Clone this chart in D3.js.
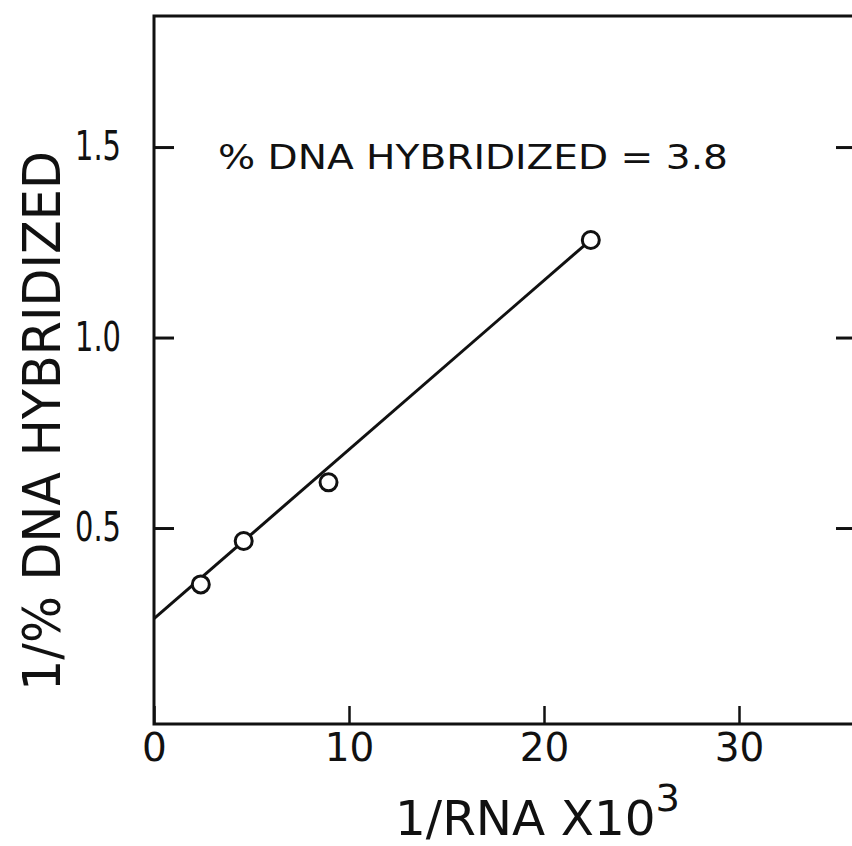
<!DOCTYPE html>
<html>
<head>
<meta charset="utf-8">
<script src="https://cdn.jsdelivr.net/npm/d3@7"></script>
<style>
  html, body { margin: 0; padding: 0; background: #fff; }
  svg { display: block; }
  text { font-family: "DejaVu Sans", sans-serif; fill: #111; }
</style>
</head>
<body>
<svg id="chart" width="852" height="846"></svg>
<script>
// ---- data ----
const pointsX = [2.4, 4.6, 8.95, 22.4];          // 1/RNA x 10^3
const pointsY = [0.352, 0.466, 0.62, 1.256];     // 1/% DNA hybridized
const fitX = [0, 22.4];
const fitIntercept = 0.262;
const fitSlope = 0.0444;
const xTicks = [0, 10, 20, 30];
const xTickLabels = ["0", "10", "20", "30"];
const yTicks = [0.5, 1.0, 1.5];
const yTickLabels = ["0.5", "1.0", "1.5"];
const annotation = "% DNA HYBRIDIZED = 3.8";
const xTitle = "1/RNA X10";
const xTitleSup = "3";
const yTitle = "1/% DNA HYBRIDIZED";

// ---- layout ----
const svg = d3.select("#chart");
const mLeft = 154, mRight = 856, mTop = 16, mBottom = 724;

const x = d3.scaleLinear().domain([0, 36]).range([mLeft, mRight]);
const y = d3.scaleLinear().domain([-0.0144, 1.844]).range([mBottom, mTop]);

const ink = "#111";

// frame
svg.append("rect")
  .attr("x", mLeft).attr("y", mTop)
  .attr("width", mRight - mLeft).attr("height", mBottom - mTop)
  .attr("fill", "none").attr("stroke", ink).attr("stroke-width", 3);

// left axis (inward ticks)
const yAxis = d3.axisLeft(y).tickValues(yTicks)
  .tickFormat((d, i) => yTickLabels[i]).tickSize(-20).tickPadding(33);
const gy = svg.append("g").attr("transform", `translate(${mLeft},0)`).call(yAxis);
gy.select(".domain").remove();
gy.selectAll(".tick line").attr("stroke", ink).attr("stroke-width", 3);
gy.selectAll(".tick text").attr("font-size", 40).attr("fill", ink)
  .attr("textLength", 46).attr("lengthAdjust", "spacingAndGlyphs")
  .style("font-family", "DejaVu Sans, sans-serif");

// right axis (inward ticks, no labels)
const yAxisR = d3.axisRight(y).tickValues(yTicks).tickFormat("").tickSize(-20);
const gyr = svg.append("g").attr("transform", `translate(${mRight},0)`).call(yAxisR);
gyr.select(".domain").remove();
gyr.selectAll(".tick line").attr("stroke", ink).attr("stroke-width", 3);

// bottom axis (inward ticks)
const xAxis = d3.axisBottom(x).tickValues(xTicks)
  .tickFormat((d, i) => xTickLabels[i]).tickSize(-18).tickPadding(9);
const gx = svg.append("g").attr("transform", `translate(0,${mBottom})`).call(xAxis);
gx.select(".domain").remove();
gx.selectAll(".tick line").attr("stroke", ink).attr("stroke-width", 2.5);
gx.selectAll(".tick text").attr("font-size", 39).attr("fill", ink)
  .style("font-family", "DejaVu Sans, sans-serif");

// fitted line
const line = d3.line().x(d => x(d)).y(d => y(fitIntercept + fitSlope * d));
svg.append("path").datum(fitX)
  .attr("d", line).attr("fill", "none")
  .attr("stroke", ink).attr("stroke-width", 3);

// points
svg.append("g").selectAll("circle")
  .data(pointsX.map((v, i) => [v, pointsY[i]]))
  .join("circle")
  .attr("cx", d => x(d[0])).attr("cy", d => y(d[1]))
  .attr("r", 8.5).attr("fill", "#fff")
  .attr("stroke", ink).attr("stroke-width", 3);

// annotation
svg.append("text")
  .attr("x", 218).attr("y", 169)
  .attr("font-size", 34)
  .attr("textLength", 510).attr("lengthAdjust", "spacingAndGlyphs")
  .text(annotation);

// y title
svg.append("text")
  .attr("transform", "translate(60,421) rotate(-90)")
  .attr("text-anchor", "middle")
  .attr("font-size", 52)
  .attr("textLength", 540).attr("lengthAdjust", "spacingAndGlyphs")
  .text(yTitle);

// x title
const xt = svg.append("text")
  .attr("x", 395).attr("y", 835)
  .attr("font-size", 48)
  .attr("textLength", 285).attr("lengthAdjust", "spacingAndGlyphs");
xt.append("tspan").text(xTitle);
xt.append("tspan").attr("dy", -24).attr("font-size", 38).text(xTitleSup);
</script>
</body>
</html>
